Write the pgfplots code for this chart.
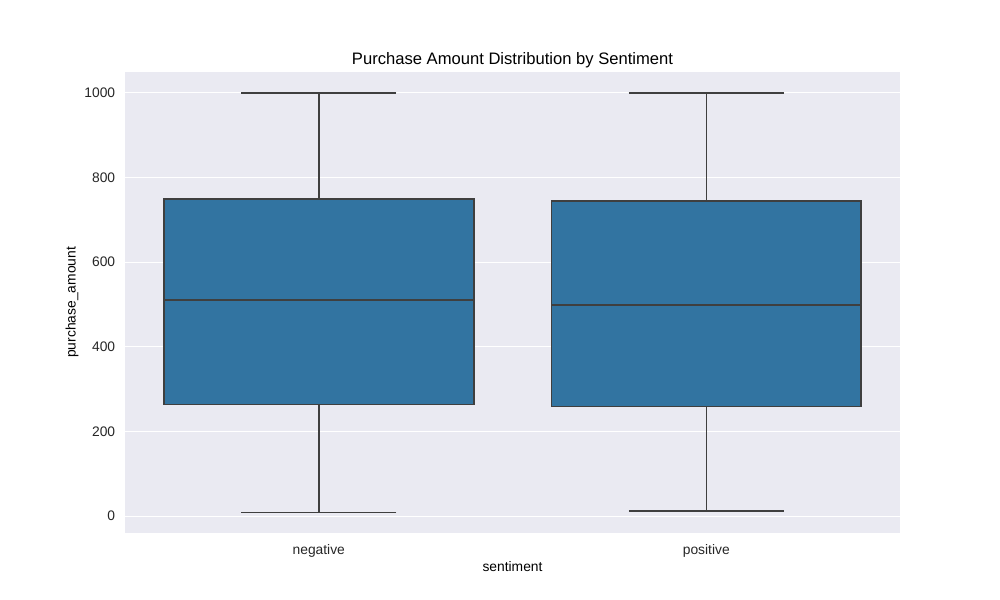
\documentclass[border=0pt]{standalone}
\usepackage{pgfplots}
\pgfplotsset{compat=1.18}
\usepgfplotslibrary{statistics}
\usepackage{fontspec}
\setmainfont{Liberation Sans}
\definecolor{bgc}{HTML}{EAEAF2}
\definecolor{boxc}{HTML}{3274A1}
\definecolor{linec}{HTML}{3F3F3F}
\begin{document}
\begin{tikzpicture}
\begin{axis}[
  scale only axis,
  width=560.3pt, height=333.3pt,
  xmin=-0.5, xmax=1.5,
  ymin=-39.5, ymax=1049.5,
  axis background/.style={fill=bgc},
  axis line style={draw=none},
  xtick={0,1}, xticklabels={negative,positive},
  ytick={0,200,400,600,800,1000},
  ymajorgrids, grid style={white, line width=0.8pt},
  major tick length=0pt,
  tick label style={font=\fontsize{10}{12}\selectfont, text=black!85},
  xticklabel style={yshift=-5pt},
  yticklabel style={xshift=-3.6pt},
  /pgf/number format/assume math mode=true,
  /pgf/number format/1000 sep={},
  xlabel={sentiment}, ylabel={purchase\_amount},
  label style={font=\fontsize{10}{12}\selectfont},
  title={Purchase Amount Distribution by Sentiment},
  title style={font=\fontsize{12}{14}\selectfont, yshift=-6.3pt},
  xlabel style={yshift=4.2pt},
  ylabel style={yshift=-2.6pt},
  boxplot/draw direction=y,
  clip=false,
]
\addplot+[boxplot prepared={draw position=0, lower whisker=9, lower quartile=264, median=511, upper quartile=749, upper whisker=1000, box extend=0.8, whisker extend=0.4},
  draw=linec, fill=boxc, line width=1.1pt, solid, mark=none] coordinates {};
\addplot+[boxplot prepared={draw position=1, lower whisker=12, lower quartile=259, median=499, upper quartile=745, upper whisker=1000, box extend=0.8, whisker extend=0.4},
  draw=linec, fill=boxc, line width=1.1pt, solid, mark=none] coordinates {};
\end{axis}
\path ([shift={(-90.4pt,-48.4pt)}]current axis.south west) rectangle ([shift={(72.3pt,52pt)}]current axis.north east);
\end{tikzpicture}
\end{document}
